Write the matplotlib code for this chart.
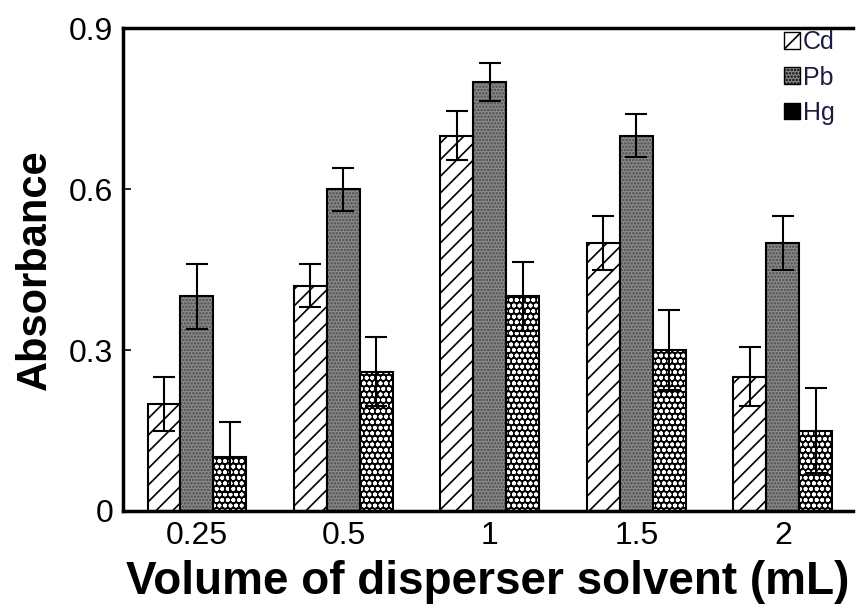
import matplotlib
matplotlib.use("Agg")
import matplotlib.pyplot as plt
from matplotlib.patches import Patch
import numpy as np

plt.rcParams['font.family'] = ['Liberation Sans', 'DejaVu Sans']
plt.rcParams['hatch.linewidth'] = 1.2

# data
volumes = ['0.25', '0.5', '1', '1.5', '2']
series = ['Cd', 'Pb', 'Hg']
cd = [0.20, 0.42, 0.70, 0.50, 0.25]
pb = [0.40, 0.60, 0.80, 0.70, 0.50]
hg = [0.10, 0.26, 0.40, 0.30, 0.15]
cd_err = [0.05, 0.04, 0.045, 0.05, 0.055]
pb_err = [0.06, 0.04, 0.035, 0.04, 0.05]
hg_err = [0.065, 0.065, 0.065, 0.075, 0.08]

values = [cd, pb, hg]
errors = [cd_err, pb_err, hg_err]
# (face, hatch colour, hatch)
styles = [('white', 'black', '//'),
          ('#8a8a8a', '#4a4a4a', '.....'),
          ('black', 'white', 'ooo')]

fig = plt.figure(figsize=(8.56, 6.14), dpi=100)
ax = fig.add_axes([0.1437, 0.1678, 0.853, 0.786])

x = np.arange(len(volumes))
w = 0.225
for i, (v, e, st) in enumerate(zip(values, errors, styles)):
    pos = x + (i - 1) * w
    ax.bar(pos, v, w, color=st[0], edgecolor=st[1], hatch=st[2], linewidth=0, zorder=2)
    ax.bar(pos, v, w, facecolor='none', edgecolor='black', linewidth=1.5, zorder=3)
    ax.errorbar(pos, v, yerr=e, fmt='none', ecolor='black', elinewidth=1.5,
                capsize=8, capthick=1.5, zorder=4)

ax.set_xlim(-0.505, 4.48)
ax.set_ylim(0, 0.9)
ax.set_yticks([0, 0.3, 0.6, 0.9])
ax.set_yticklabels(['0', '0.3', '0.6', '0.9'])
ax.set_xticks(x)
ax.set_xticklabels(volumes)
ax.tick_params(axis='y', direction='in', length=6, width=1.2, labelsize=23, pad=7)
ax.tick_params(axis='x', length=0, labelsize=23, pad=7)
for s in ['left', 'bottom', 'top']:
    ax.spines[s].set_linewidth(2.5)
ax.spines['right'].set_visible(False)

ax.set_xlabel('Volume of disperser solvent (mL)', fontsize=33, fontweight='bold', labelpad=7)
ax.set_ylabel('Absorbance', fontsize=30, fontweight='bold', labelpad=10)

handles = []
for name, st in zip(series, styles):
    handles.append(Patch(facecolor=st[0], edgecolor=st[1], hatch=st[2],
                         linewidth=1, label=name))
leg = ax.legend(handles=handles, loc='upper right', frameon=False, fontsize=18,
                handlelength=0.65, handleheight=0.65, handletextpad=0.12,
                labelspacing=0.45, borderaxespad=0.2, bbox_to_anchor=(0.995, 1.027))
for t in leg.get_texts():
    t.set_color('#1c1c44')
for h in leg.legend_handles:
    h.set_edgecolor('black')

fig.savefig('out.png', dpi=100)
